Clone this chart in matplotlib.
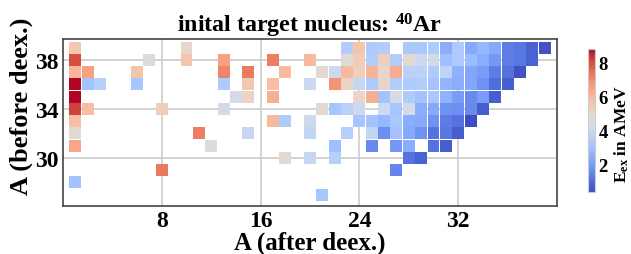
import numpy as np
import matplotlib as mpl
mpl.use('Agg')
import matplotlib.pyplot as plt

# A after deexcitation, A before deexcitation, excitation energy (AMeV)
a_before = ([39] * 18 + [38] * 22 + [37] * 23 + [36] * 23 + [35] * 16 + [34] * 17
            + [33] * 14 + [32] * 13 + [31] * 8 + [30] * 5 + [29] * 2 + [28] + [27])
a_after = [
    1, 10, 23, 24, 25, 26, 28, 29, 30, 31, 32, 33, 34, 35, 36, 37, 38, 39,
    1, 7, 10, 13, 17, 20, 23, 24, 25, 26, 27, 28, 29, 30, 31, 32, 33, 34, 35, 36, 37, 38,
    1, 2, 6, 13, 15, 18, 21, 22, 23, 24, 25, 26, 27, 28, 29, 30, 31, 32, 33, 34, 35, 36, 37,
    1, 2, 3, 6, 13, 15, 17, 20, 22, 23, 24, 25, 26, 27, 28, 29, 30, 31, 32, 33, 34, 35, 36,
    1, 14, 15, 17, 24, 25, 26, 27, 28, 29, 30, 31, 32, 33, 34, 35,
    1, 2, 8, 13, 21, 22, 23, 24, 26, 27, 28, 29, 30, 31, 32, 33, 34,
    1, 17, 18, 20, 24, 25, 26, 27, 28, 29, 30, 31, 32, 33,
    1, 11, 15, 20, 23, 25, 26, 27, 28, 29, 30, 31, 32,
    1, 12, 22, 25, 27, 28, 30, 31,
    18, 20, 22, 28, 29,
    8, 27,
    1,
    21,
]
e_ex = [
    5.5, 5.0, 3.4, 5.6, 3.3, 3.4, 3.2, 3.2, 3.3, 2.4, 3.3, 2.3, 2.7, 2.3, 1.3, 1.2, 0.8, 0.5,
    8.0, 4.6, 5.6, 6.5, 7.2, 5.9, 4.7, 5.4, 3.4, 5.3, 3.4, 4.8, 4.1, 4.2, 2.9, 3.3, 2.8, 2.4, 1.9, 1.3, 1.2, 0.8,
    6.0, 6.5, 5.6, 7.1, 7.3, 5.9, 4.8, 4.1, 5.9, 5.3, 6.1, 5.0, 6.3, 3.6, 3.6, 3.3, 3.7, 2.5, 2.2, 2.0, 1.3, 1.1, 0.5,
    8.8, 3.0, 3.5, 3.1, 3.3, 5.5, 5.8, 4.1, 6.8, 5.1, 3.9, 3.3, 5.0, 3.4, 3.3, 3.4, 3.0, 2.6, 2.4, 2.2, 1.8, 1.0, 0.7,
    8.8, 4.3, 5.1, 6.2, 5.0, 6.2, 3.0, 4.3, 3.3, 3.0, 3.2, 2.5, 2.0, 1.6, 2.0, 0.7,
    8.2, 5.8, 5.3, 4.3, 4.8, 3.1, 3.6, 4.1, 4.1, 3.1, 4.3, 2.4, 2.3, 1.8, 1.7, 1.6, 0.7,
    5.8, 5.9, 3.3, 4.1, 3.1, 3.0, 2.7, 3.2, 2.4, 2.3, 1.8, 1.3, 1.1, 0.4,
    4.8, 7.2, 3.9, 3.8, 3.5, 3.8, 1.7, 3.0, 2.3, 1.8, 1.1, 1.2, 0.7,
    6.4, 4.6, 2.9, 1.6, 1.9, 2.4, 1.1, 0.7,
    4.8, 3.9, 3.5, 1.1, 0.8,
    7.3, 1.5,
    3.0,
    3.1,
]

plt.rcParams['font.family'] = ['Liberation Serif', 'DejaVu Serif']
plt.rcParams['font.weight'] = 'bold'
plt.rcParams['axes.labelweight'] = 'bold'
plt.rcParams['axes.titleweight'] = 'bold'
plt.rcParams['mathtext.fontset'] = 'custom'
plt.rcParams['mathtext.rm'] = 'Liberation Serif:bold'
plt.rcParams['mathtext.it'] = 'Liberation Serif:bold'
plt.rcParams['mathtext.bf'] = 'Liberation Serif:bold'

fig = plt.figure(figsize=(6.31, 2.55), dpi=100)
ax = fig.add_axes([63 / 631, 1 - 206.7 / 255, 494 / 631, 166.7 / 255])
cax = fig.add_axes([588 / 631, 1 - 193 / 255, 6.5 / 631, 143 / 255])

ax.set_axisbelow(True)
ax.grid(True, color='#cccccc', lw=1.2)
sc = ax.scatter(a_after, a_before, c=e_ex, cmap='coolwarm', vmin=0.35, vmax=8.8,
                marker='s', s=74, linewidths=0)

ax.set_xlim(0, 40)
ax.set_ylim(26.1, 39.7)
ax.set_xticks([8, 16, 24, 32])
ax.set_yticks([30, 34, 38])
ax.tick_params(length=0, labelsize=17, pad=3)
for sp in ax.spines.values():
    sp.set_color('#444444')
    sp.set_linewidth(1.2)

ax.set_xlabel('A (after deex.)', fontsize=18, labelpad=0)
ax.set_ylabel('A (before deex.)', fontsize=19)
ax.yaxis.set_label_coords(-0.06, 0.6)
ax.set_title('inital target nucleus: $^{40}$Ar', fontsize=17.3, pad=4)

cb = fig.colorbar(sc, cax=cax)
cb.set_ticks([2, 4, 6, 8])
cb.outline.set_edgecolor('#cccccc')
cb.ax.tick_params(length=0, labelsize=13.5, pad=3)
# colorbar label placed by hand so it stays inside the canvas
fig.text(622 / 631, 121 / 255, 'E$_{ex}$ in AMeV', fontsize=12.5, rotation=90,
         ha='center', va='center')

plt.savefig('out.png', dpi=100)
plt.close()
